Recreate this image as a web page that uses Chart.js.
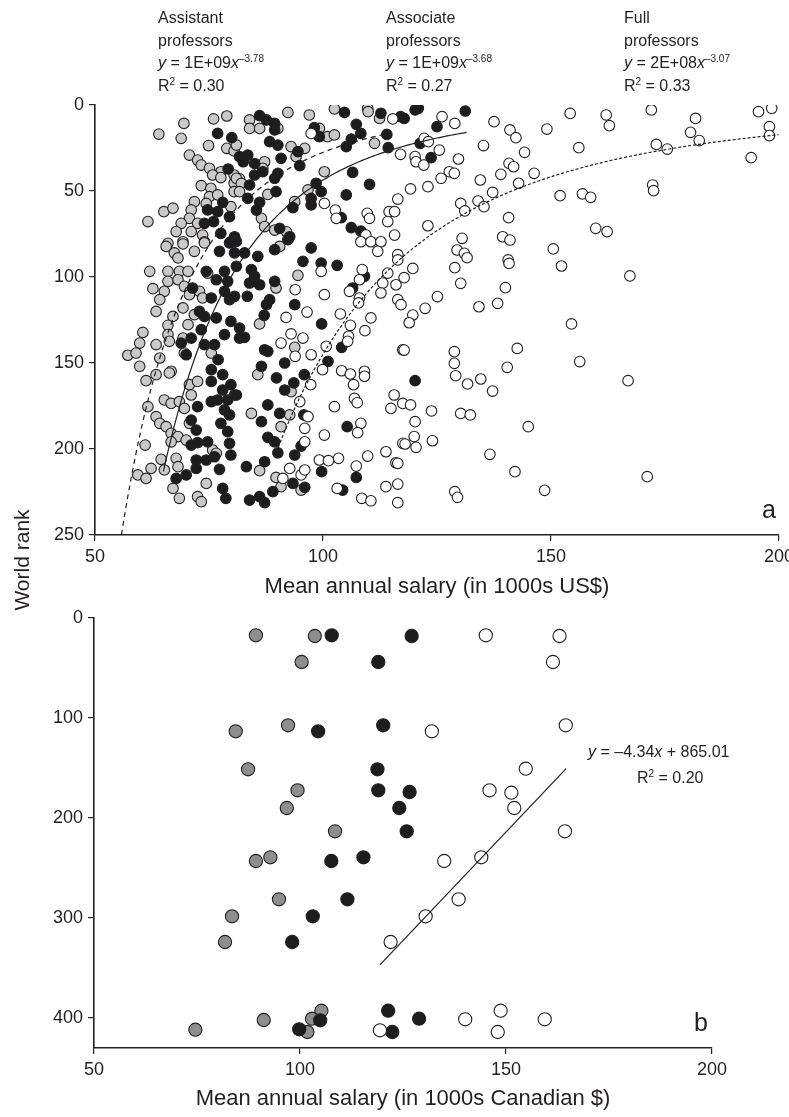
<!DOCTYPE html>
<html>
<head>
<meta charset="utf-8">
<script src="https://cdn.jsdelivr.net/npm/chart.js@4.4.1/dist/chart.umd.min.js"></script>
<style>
    body { margin: 0; background: #fff; }
    #wrap {
        position: relative; width: 789px; height: 1117px; overflow: hidden;
        font-family: 'Liberation Sans Narrow', 'Liberation Sans', Arial, sans-serif;
        color: #231f20;
    }
    canvas { position: absolute; left: 0; }
    #chartA { top: 0; }
    #chartB { top: 600px; }
    .note { position: absolute; font-size: 16px; line-height: 22.5px; white-space: nowrap; }
    .note sup { font-size: 10px; line-height: 0; vertical-align: 6px; }
    .panel { position: absolute; font-size: 25px; line-height: 25px; }
    #yTitle {
        position: absolute; left: -78px; top: 548px; width: 200px; text-align: center;
        font-size: 21px; line-height: 24px; transform: rotate(-90deg);
    }
</style>
</head>
<body>
<div id="wrap">
    <canvas id="chartA" width="789" height="600"></canvas>
    <canvas id="chartB" width="789" height="517"></canvas>

    <div class="note" style="left:158px; top:7px">Assistant<br>professors<br><i>y</i> = 1E+09<i>x</i><sup>–3.78</sup><br>R<sup>2</sup> = 0.30</div>
    <div class="note" style="left:386px; top:7px">Associate<br>professors<br><i>y</i> = 1E+09<i>x</i><sup>–3.68</sup><br>R<sup>2</sup> = 0.27</div>
    <div class="note" style="left:624px; top:7px">Full<br>professors<br><i>y</i> = 2E+08<i>x</i><sup>–3.07</sup><br>R<sup>2</sup> = 0.33</div>

    <div class="note" style="left:588px; top:741px"><i>y</i> = –4.34<i>x</i> + 865.01</div>
    <div class="note" style="left:637px; top:767px">R<sup>2</sup> = 0.20</div>

    <div class="panel" style="left:762px; top:497px">a</div>
    <div class="panel" style="left:694px; top:1010px">b</div>
    <div id="yTitle">World rank</div>
</div>

<script>
// Panel a: [mean salary (1000s US$), world rank]
const assistantA = [
    [64.0,16.9],[69.5,10.7],[68.9,19.4],[76.0,8.1],[78.9,6.4],[74.9,23.6],[78.9,25.2],[80.5,26.7],[70.7,29.1],[72.5,32.0],
    [73.3,34.9],[75.1,36.8],[77.6,38.8],[75.8,40.7],[77.6,42.2],[80.5,40.7],[81.7,43.0],[73.3,46.9],[75.4,48.4],[80.5,45.5],
    [80.5,50.4],[75.1,53.3],[76.9,52.3],[71.8,56.2],[74.4,57.2],[65.1,62.0],[67.1,60.0],[71.1,61.0],[79.8,59.1],[61.6,67.8],
    [70.7,65.9],[68.9,68.8],[72.5,68.8],[67.8,73.6],[71.1,73.6],[73.6,75.6],[66.0,80.4],[69.3,79.5],[74.0,79.5],
    [83.9,8.7],[83.9,13.6],[86.1,13.6],[90.1,13.6],[92.3,4.3],[97.0,5.8],[102.5,2.3],[109.8,1.9],[109.9,3.9],[112.4,7.8],
    [99.2,13.6],[101.0,18.4],[102.5,17.4],[111.3,22.3],[81.0,23.3],[93.0,24.2],[96.0,25.2],[94.1,30.0],[87.2,33.0],[86.8,36.8],
    [100.3,38.8],[81.0,42.6],[82.1,45.6],[81.7,50.4],[87.9,52.0],[96.7,49.4],[93.8,56.2],[86.5,65.9],[87.2,70.7],[89.4,72.7],[92.0,73.7],
    [65.6,82.2],[69.3,80.8],[67.4,86.0],[68.2,88.9],[74.0,80.2],[71.8,85.1],[62.0,96.7],[66.0,96.7],[68.5,96.7],[70.4,96.7],
    [74.7,97.7],[66.0,102.5],[68.2,101.6],[62.7,106.8],[65.2,108.3],[69.6,105.4],[70.7,110.3],[72.9,108.3],[73.6,112.2],[64.2,113.2],
    [63.4,120.0],[69.3,118.0],[67.1,122.9],[71.8,121.9],[66.0,128.1],[66.0,133.5],[70.4,127.7],[60.5,132.2],[59.8,138.4],[63.4,139.3],
    [66.3,137.4],[69.3,135.5],[57.2,145.5],[59.0,144.2],[64.2,147.1],[69.6,144.2],[75.5,144.2],[59.8,151.9],[66.7,154.8],[66.3,155.8],
    [61.2,160.3],[63.4,156.8],[70.7,162.6],[72.5,160.7],
    [90.5,82.2],[94.5,99.0],[89.7,106.4],[86.1,127.3],[93.8,140.9],[85.7,156.8],
    [61.6,175.4],[65.2,171.5],[66.7,173.5],[68.5,172.5],[71.1,168.6],[69.6,176.4],[63.4,181.2],[64.2,185.1],[65.6,187.0],[66.7,190.9],
    [68.2,192.8],[70.7,185.1],[61.0,197.7],[66.7,195.8],[70.0,194.8],[75.8,200.6],[76.6,202.5],[64.5,206.0],[65.2,212.2],[67.8,205.4],
    [68.2,210.3],[62.3,211.3],[59.4,215.1],[61.2,217.1],[67.1,222.9],[74.4,220.0],[68.5,228.7],[72.5,227.7],[73.3,230.6],
    [93.0,166.7],[84.3,179.3],[92.7,180.2],[90.8,187.0],[86.1,212.6],[89.7,216.5],[90.8,221.9],[95.2,223.9]
];

const associateA = [
    [76.9,16.5],[80.0,19.0],[81.7,30.0],[79.2,37.2],[78.0,56.6],[74.7,61.0],[76.9,62.0],[74.0,68.8],[76.0,67.8],[79.5,64.9],
    [77.6,74.6],[79.8,79.5],
    [86.1,6.2],[87.6,8.7],[89.4,10.7],[89.4,14.5],[104.7,4.3],[112.7,4.8],[117.0,6.8],[98.1,13.2],[99.2,18.4],[107.3,11.2],
    [108.3,16.5],[106.2,19.8],[105.1,24.2],[114.0,17.1],[114.3,24.8],[88.3,21.3],[90.1,23.3],[94.5,27.1],[83.5,29.1],[82.5,33.0],
    [85.0,34.0],[90.8,31.0],[94.9,35.3],[86.8,38.8],[85.0,40.7],[89.4,42.6],[90.1,39.7],[106.5,39.2],[83.9,46.5],[110.2,46.1],
    [83.5,54.3],[89.7,50.4],[98.5,45.5],[99.6,50.4],[97.4,54.3],[93.4,59.7],[86.1,56.6],[85.4,61.1],[97.4,58.1],[105.1,52.3],
    [104.0,65.5],[106.2,71.3],[108.3,73.3],[90.5,71.7],[92.7,76.6],[80.6,76.6],
    [77.3,85.1],[79.5,80.2],[80.6,86.0],[74.4,96.7],[76.6,101.6],[78.4,96.7],[79.1,102.5],[71.4,106.4],[75.5,112.2],[78.4,108.3],
    [79.5,113.2],[80.6,111.2],[72.9,120.0],[74.0,122.9],[76.6,123.8],[79.8,125.8],[81.7,129.7],[68.9,138.4],[71.1,135.5],[73.3,130.6],
    [74.0,139.3],[76.2,139.3],[78.4,133.5],[81.7,135.5],[70.0,145.2],[77.0,148.1],[75.5,153.9],[78.0,156.8],[75.5,160.7],[79.8,162.6],
    [81.0,79.3],[89.4,84.1],[92.3,78.3],[97.4,83.1],[82.8,86.0],[85.7,88.0],[84.3,95.7],[85.0,99.6],[83.9,103.5],[86.1,104.5],
    [81.0,93.8],[95.6,90.9],[99.6,91.9],[103.1,93.2],[89.4,102.5],[83.4,111.2],[88.3,113.2],[87.6,116.1],[93.8,116.1],[87.1,122.3],
    [99.7,127.3],[82.8,135.1],[87.2,142.3],[87.9,143.2],[91.6,150.0],[86.5,151.9],[101.1,149.0],[95.9,156.8],[89.8,158.7],[93.6,161.6],
    [109.1,99.6],[106.5,106.4],[104.1,140.9],
    [72.5,175.4],[75.5,172.5],[76.9,171.5],[78.0,165.7],[79.1,171.5],[80.6,168.6],[78.4,177.3],[79.5,180.2],[71.1,183.2],[72.2,189.0],
    [77.6,185.1],[79.1,189.9],[71.1,197.7],[72.5,196.3],[74.7,195.8],[79.5,196.7],[79.8,203.5],[76.2,204.5],[74.4,206.4],[72.2,206.4],
    [72.2,211.3],[77.3,211.8],[67.8,217.1],[70.0,215.1],[78.0,222.9],[78.7,228.7],
    [91.6,165.7],[81.0,168.6],[87.9,174.4],[86.5,184.1],[90.5,179.3],[95.8,180.2],[87.9,193.2],[89.4,195.8],[95.2,198.3],[90.1,202.2],
    [93.8,203.5],[83.2,210.3],[87.2,207.4],[93.4,220.0],[96.0,222.3],[89.0,224.8],[83.9,229.7],[86.1,227.7],[87.2,231.2],[105.3,187.0],
    [99.7,213.2],[107.3,216.5],[104.3,223.9],
    [117.8,7.8],[120.2,2.9],[120.9,1.9],[125.0,12.6],[131.2,3.5],[121.3,22.3],[123.7,30.6],[120.2,160.3]
];

const fullA = [
    [115.3,8.1],[97.4,16.5],[117.0,28.7],[100.3,57.2],[116.4,54.7],[102.7,61.1],[102.9,65.9],[109.7,63.0],[110.2,65.9],[114.5,62.0],
    [114.2,67.8],[109.4,75.6],[108.3,79.5],[110.5,79.5],[112.7,79.5],
    [99.6,96.7],[93.9,107.4],[100.3,110.3],[96.5,120.4],[91.9,123.5],[93.0,133.1],[95.6,135.5],[90.8,138.4],[97.4,145.2],[93.9,146.1],
    [100.7,140.3],[99.9,153.9],[97.3,162.6],[112.0,85.1],[116.4,87.0],[108.6,95.7],[108.0,101.6],[105.8,108.3],[108.0,112.2],[107.8,115.1],
    [114.2,97.7],[113.1,103.5],[116.0,104.5],[112.7,109.3],[116.4,113.2],[117.1,116.1],[103.8,121.5],[110.5,123.8],[106.0,128.1],[109.2,131.2],
    [105.6,134.5],[105.4,137.4],[104.1,154.5],[106.0,156.4],[109.1,154.8],[109.1,157.7],[106.7,162.6],[117.5,142.3],
    [94.9,172.5],[96.7,181.2],[96.0,188.0],[96.0,195.8],[91.2,217.1],[92.7,211.3],[95.2,215.1],[96.0,212.2],[102.5,175.4],[106.9,170.6],
    [107.5,173.1],[115.6,168.6],[114.9,176.4],[117.5,173.5],[108.3,185.1],[107.6,190.5],[100.3,191.9],[117.5,196.7],[109.8,204.1],[113.8,201.6],
    [116.0,208.0],[99.2,206.4],[101.2,206.8],[103.4,205.4],[107.3,209.9],[103.1,222.9],[113.8,221.9],[116.4,220.4],[108.5,228.7],[110.5,230.1],
    [116.4,231.2],
    [126.1,6.8],[128.9,10.7],[122.2,19.4],[123.1,21.3],[120.2,30.0],[120.4,33.0],[122.1,34.9],[125.5,26.2],[129.7,31.4],[127.7,38.8],
    [128.8,39.7],[125.9,42.6],[123.0,47.5],[119.2,48.8],[115.7,62.0],[137.5,9.7],[141.0,14.5],[142.3,19.0],[135.2,23.6],[144.2,27.5],
    [140.8,33.9],[141.8,35.9],[139.0,40.3],[134.5,43.6],[142.9,45.5],[146.3,39.7],[137.2,50.8],[130.2,57.2],[131.1,61.6],[134.0,55.8],
    [135.3,59.1],[123.0,70.2],[140.7,65.5],[130.5,77.5],[139.4,76.6],[141.0,78.5],[129.4,84.3],[131.0,86.2],[131.6,88.8],[128.9,94.6],
    [130.2,103.7],[140.6,90.1],[140.8,92.1],[140.0,106.2],[134.2,117.3],[138.3,115.3],[125.1,111.4],[122.4,118.2],[119.7,95.0],[117.8,100.4],
    [116.4,90.1],[115.7,75.6],[119.7,122.1],
    [149.1,14.0],[154.2,4.9],[162.1,5.8],[162.8,12.0],[156.1,24.8],[172.0,2.9],[173.1,22.9],[175.5,25.6],[181.7,7.8],[180.6,15.9],
    [182.5,20.7],[195.5,3.9],[198.4,1.9],[197.9,12.6],[197.9,17.8],[193.9,30.6],[152.0,52.7],[156.9,51.7],[158.7,53.7],[172.3,46.5],
    [172.5,49.8],[159.8,71.7],[162.3,73.6],[150.5,83.7],[152.3,93.6],[167.3,99.4],
    [154.5,127.3],[118.9,126.6],[117.8,142.5],[128.8,143.4],[128.8,150.2],[129.1,157.4],[131.7,162.2],[134.6,159.3],[137.2,166.3],[140.4,152.5],
    [142.6,141.5],[156.3,149.2],[166.9,160.3],[119.2,174.4],[120.2,184.1],[123.8,177.9],[120.0,192.8],[118.0,197.1],[120.4,199.0],[124.0,195.2],
    [130.2,179.3],[132.3,180.2],[145.0,187.0],[136.6,203.1],[142.1,213.2],[148.6,224.0],[171.1,216.1],[128.9,224.8],[129.5,228.1],[116.4,208.3]
];

// Power-law fits printed on panel a: rank = a * salary^b, drawn over the salary span shown
const fitAssistant = { a: 1e9, b: -3.78, from: 55.8, to: 113 };
const fitAssociate = { a: 1e9, b: -3.68, from: 65, to: 131.5 };
const fitFull = { a: 2e8, b: -3.07, from: 89.4, to: 200 };

// Panel b: [mean salary (1000s Canadian $), world rank]
const assistantB = [
    [89.3,17.3],[103.6,18],[100.4,44],[84.4,113.3],[97.1,107.3],[87.4,151.3],[99.4,172.3],[96.8,190],[108.5,213.3],[89.3,243],
    [92.8,239.3],[94.9,281.3],[83.5,298.3],[81.8,324],[105.2,392.7],[91.2,402],[102.9,400.7],[101.8,414],[74.6,411.7]
];
const associateB = [
    [107.7,17.3],[104.4,113.3],[107.6,243],[115.4,239.3],[111.5,281.3],[103.1,298.3],[98.1,324],[104.9,402.3],[99.8,411.3],
    [127.1,18],[119.0,44],[120.2,107.3],[118.8,151.3],[119.0,172.3],[126.6,174],[124.1,190],[125.9,213.3],[121.4,392.7],
    [128.9,400.7],[122.4,414]
];
const fullB = [
    [145.1,17.3],[163.0,18],[161.4,44],[164.5,107.3],[132.0,113.3],[154.8,150.7],[146.0,172.3],[151.3,174.7],[152.0,190],[164.3,213.3],
    [135.0,243],[144.0,239.3],[138.5,281.3],[130.5,298.3],[122.0,324],[148.7,392.7],[140.1,401.3],[159.4,401.3],[148.0,414],[119.4,412.3]
];

// Linear fit printed on panel b: rank = slope * salary + intercept
const fitB = { slope: -4.34, intercept: 865.01, from: 119.4, to: 164.6 };

const ink = '#231f20';
Chart.defaults.font.family = "'Liberation Sans Narrow', 'Liberation Sans', Arial, sans-serif";
Chart.defaults.color = ink;

function toPoints(list) {
    return list.map(p => ({ x: p[0], y: p[1] }));
}

function powerCurve(fit) {
    const out = [];
    for (let x = fit.from; x <= fit.to + 1e-9; x += 0.5) {
        out.push({ x: x, y: fit.a * Math.pow(x, fit.b) });
    }
    return out;
}

function dots(label, list, fill, radius, order) {
    return {
        type: 'scatter', label, data: toPoints(list), order,
        backgroundColor: fill, borderColor: ink, borderWidth: 1.1,
        pointRadius: radius, pointHoverRadius: radius
    };
}

function curve(label, data, dash) {
    return {
        type: 'line', label, data, order: 0,
        borderColor: ink, borderWidth: 1.2, borderDash: dash,
        pointRadius: 0, fill: false, tension: 0
    };
}

function axis(min, max, step, reverse, boxSize, title) {
    const horizontal = !reverse;
    return {
        type: 'linear', min, max, reverse,
        ticks: { stepSize: step, includeBounds: false, padding: 5, color: ink, font: { size: 18 } },
        grid: { display: true, drawOnChartArea: false, drawTicks: true, tickLength: 6, color: ink, lineWidth: 1.2 },
        border: { display: true, color: ink, width: 1.6 },
        title: title ? { display: true, text: title, color: ink, font: { size: 22 }, padding: 0 } : { display: false },
        afterFit: function(scale) {
            if (horizontal) {
                scale.height = boxSize;
            } else {
                scale.width = boxSize;
            }
            scale.paddingLeft = 0;
            scale.paddingRight = 0;
            scale.paddingTop = 0;
            scale.paddingBottom = 0;
        }
    };
}

const baseOptions = {
    responsive: false,
    animation: false,
    plugins: { legend: { display: false }, tooltip: { enabled: false } }
};

new Chart(document.getElementById('chartA'), {
    type: 'scatter',
    data: {
        datasets: [
            curve('Assistant fit', powerCurve(fitAssistant), [5, 4]),
            curve('Associate fit', powerCurve(fitAssociate), []),
            curve('Full fit', powerCurve(fitFull), [3, 2]),
            dots('Full professors', fullA, '#ffffff', 5.3, 1),
            dots('Associate professors', associateA, '#1d1d1f', 5.3, 2),
            dots('Assistant professors', assistantA, '#c9c9c9', 5.3, 3)
        ]
    },
    options: {
        ...baseOptions,
        layout: { padding: { left: 35, right: 10, top: 105, bottom: 0 } },
        scales: {
            x: axis(50, 200, 50, false, 65, 'Mean annual salary (in 1000s US$)'),
            y: axis(0, 250, 50, true, 60, null)
        }
    }
});

new Chart(document.getElementById('chartB'), {
    type: 'scatter',
    data: {
        datasets: [
            curve('Full fit', [
                { x: fitB.from, y: fitB.slope * fitB.from + fitB.intercept },
                { x: fitB.to, y: fitB.slope * fitB.to + fitB.intercept }
            ], []),
            dots('Full professors', fullB, '#ffffff', 6.6, 1),
            dots('Associate professors', associateB, '#1d1d1f', 6.6, 2),
            dots('Assistant professors', assistantB, '#8e8e8e', 6.6, 3)
        ]
    },
    options: {
        ...baseOptions,
        layout: { padding: { left: 34, right: 77, top: 18, bottom: 5 } },
        scales: {
            x: axis(50, 200, 50, false, 64, 'Mean annual salary (in 1000s Canadian $)'),
            y: axis(0, 430, 100, true, 60, null)
        }
    }
});
</script>
</body>
</html>
